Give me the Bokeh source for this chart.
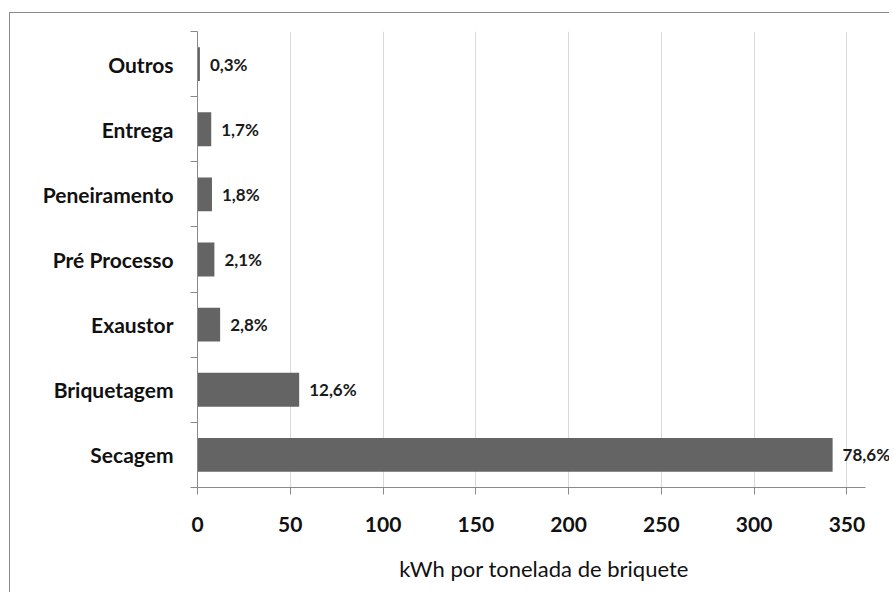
from bokeh.plotting import figure
from bokeh.models import Range1d, FixedTicker, ColumnDataSource, LabelSet
from bokeh.core.properties import value
from bokeh.embed import file_html
from bokeh.resources import INLINE

categories = ["Secagem", "Briquetagem", "Exaustor", "Pré Processo", "Peneiramento", "Entrega", "Outros"]
values = [342.3, 54.8, 12.2, 9.1, 7.8, 7.4, 1.3]
percent_labels = ["78,6%", "12,6%", "2,8%", "2,1%", "1,8%", "1,7%", "0,3%"]
x_ticks = [0, 50, 100, 150, 200, 250, 300, 350]
x_title = "kWh por tonelada de briquete"

positions = list(range(1, len(categories) + 1))
source = ColumnDataSource(dict(y=positions, value=values, label=percent_labels, cat=categories))

FONT = "Lato"

p = figure(width=880, height=580, x_range=Range1d(0, 373.5), y_range=Range1d(0.5, len(categories) + 0.5),
           output_backend="svg", toolbar_location=None,
           min_border_left=187, min_border_right=0, min_border_top=18, min_border_bottom=106,
           styles={"border-top": "1px solid #8a8a8a", "border-left": "1px solid #8a8a8a",
                   "margin-top": "12px", "margin-left": "9px"})
p.outline_line_color = None
p.background_fill_color = "white"
p.border_fill_color = "white"

p.hbar(y="y", right="value", left=0, height=0.52, source=source, fill_color="#646464", line_color=None)

labels = LabelSet(x="value", y="y", text="label", source=source, x_offset=10, y_offset=0,
                  text_align="left", text_baseline="middle", text_font=value(FONT), text_font_size="17px",
                  text_font_style="bold", text_color="#1a1a1a")
p.add_layout(labels)

# x axis
p.xaxis.ticker = FixedTicker(ticks=x_ticks)
p.xaxis.bounds = (0, 360)
p.xaxis.axis_line_color = "#8a8a8a"
p.xaxis.major_tick_line_color = "#8a8a8a"
p.xaxis.major_tick_out = 7
p.xaxis.major_tick_in = 0
p.xaxis.minor_tick_line_color = None
p.xaxis.major_label_text_font = FONT
p.xaxis.major_label_text_font_size = "21px"
p.xaxis.major_label_text_font_style = "bold"
p.xaxis.major_label_text_color = "#111111"
p.xaxis.major_label_standoff = 22
p.xaxis.axis_label = x_title
p.xaxis.axis_label_text_font = FONT
p.xaxis.axis_label_text_font_size = "22px"
p.xaxis.axis_label_text_font_style = "normal"
p.xaxis.axis_label_text_color = "#111111"
p.xaxis.axis_label_standoff = 20

# y axis: labels at bar centres, ticks at category boundaries
p.yaxis.ticker = FixedTicker(ticks=positions, minor_ticks=[i + 0.5 for i in range(0, len(categories) + 1)])
p.yaxis.major_label_overrides = {pos: cat for pos, cat in zip(positions, categories)}
p.yaxis.axis_line_color = "#8a8a8a"
p.yaxis.major_tick_line_color = None
p.yaxis.minor_tick_line_color = "#8a8a8a"
p.yaxis.minor_tick_out = 7
p.yaxis.minor_tick_in = 0
p.yaxis.major_label_text_font = FONT
p.yaxis.major_label_text_font_size = "21px"
p.yaxis.major_label_text_font_style = "bold"
p.yaxis.major_label_text_color = "#111111"
p.yaxis.major_label_standoff = 17

p.xgrid.grid_line_color = "#d9d9d9"
p.xgrid.ticker = FixedTicker(ticks=x_ticks)
p.ygrid.grid_line_color = None

open("out.html", "w").write(file_html(p, INLINE))
